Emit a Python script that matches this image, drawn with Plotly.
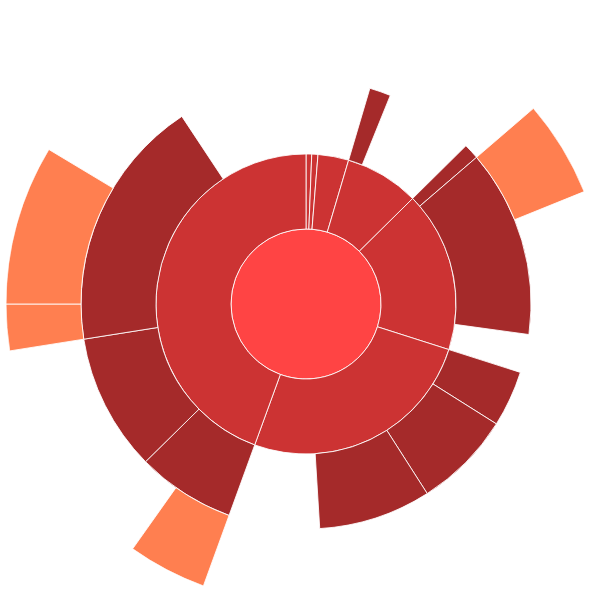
import plotly.graph_objects as go

# Hierarchy (children listed in drawing order, clockwise from 12 o'clock)
labels = ["root",
          "A", "B", "C", "D", "E", "F", "G",
          "D1",
          "E1", "E2", "E2a",
          "F1", "F2", "F3",
          "G1", "G1a", "G2", "G3", "G3a", "G3b"]
parents = ["",
           "root", "root", "root", "root", "root", "root", "root",
           "D",
           "E", "E", "E2",
           "F", "F", "F",
           "G", "G1", "G", "G", "G3", "G3"]
values = [360,
          2.2, 2.4, 11.9, 28.8, 62.4, 92.3, 160.0,
          5.5,
          4.0, 48.5, 18.7,
          14.5, 25.2, 29.1,
          25.5, 15.3, 35.5, 65.5, 9.0, 31.0]

depth_colors = ["#FF4444", "#CC3333", "#A52A2A", "#FF7F50"]

# partition layout: each child starts where previous sibling ended
idx = {l: i for i, l in enumerate(labels)}
root_val = values[0]
depth = [0] * len(labels)
start = [0.0] * len(labels)
next_pos = {}
for i, (l, p) in enumerate(zip(labels, parents)):
    if p == "":
        depth[i] = 0
        start[i] = 0.0
    else:
        pi = idx[p]
        depth[i] = depth[pi] + 1
        start[i] = next_pos.get(p, start[pi])
        next_pos[p] = start[i] + values[i]

fig = go.Figure()
for d, col in enumerate(depth_colors):
    ids = [i for i in range(len(labels)) if depth[i] == d]
    span = [values[i] / root_val * 360 for i in ids]
    theta = [start[i] / root_val * 360 + s / 2 for i, s in zip(ids, span)]
    fig.add_trace(go.Barpolar(
        theta=theta,
        width=span,
        base=[d for _ in ids],
        r=[1 for _ in ids],
        marker=dict(color=col, line=dict(color="rgba(255,255,255,0.85)", width=1)),
        hovertext=[labels[i] for i in ids],
        hoverinfo="text",
        showlegend=False,
    ))

fig.update_layout(
    width=611, height=610,
    margin=dict(l=6, r=5, t=4, b=6),
    paper_bgcolor="white",
    polar=dict(
        bgcolor="white",
        domain=dict(x=[0, 1], y=[0, 1]),
        radialaxis=dict(range=[0, 4], visible=False, showgrid=False),
        angularaxis=dict(direction="clockwise", rotation=90, visible=False, showgrid=False),
        bargap=0,
    ),
    showlegend=False,
)
fig.write_html("out.html",
               config={"displayModeBar": False},
               post_script="document.body.style.margin='0px';document.body.style.overflow='hidden';")
